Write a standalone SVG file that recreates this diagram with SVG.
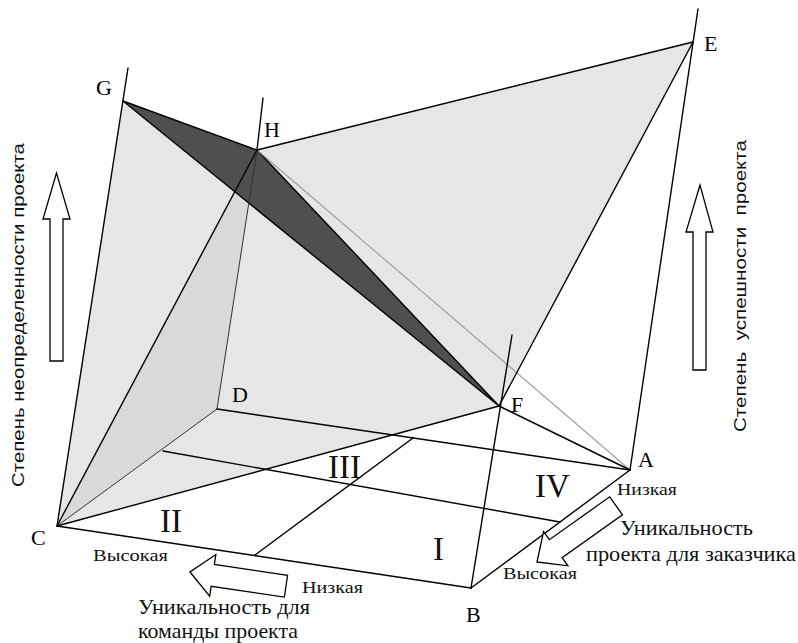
<svg xmlns="http://www.w3.org/2000/svg" width="798" height="643" viewBox="0 0 798 643">
<style>
.ln{stroke:#000;stroke-width:1.4;fill:none;stroke-linecap:round}
.thin{stroke:#333;stroke-width:1;fill:none}
.gray{stroke:#999;stroke-width:1.1;fill:none}
.lbl{font-family:"Liberation Serif","Times New Roman",serif;font-size:22px;fill:#000}
.num{font-family:"Liberation Serif","Times New Roman",serif;font-size:33px;fill:#111}
.sm{font-family:"Liberation Serif","Times New Roman",serif;font-size:17px;fill:#111}
.mid{font-family:"Liberation Serif","Times New Roman",serif;font-size:21px;fill:#111}
.ax{font-family:"Liberation Sans",Arial,sans-serif;font-size:17px;fill:#111}
.arr{fill:#fff;stroke:#000;stroke-width:1.3;stroke-linejoin:miter}
</style>
<defs>
<polygon id="harrow" points="0,0 -23,-21 -23,-11 -97,-11 -97,11 -23,11 -23,21"/>
</defs>
<rect width="798" height="643" fill="#fff"/>

<g id="faces">
<polygon points="123,101 257,150 693,42 499,406 57,526" fill="#e6e6e6"/>
<polygon points="57,526 257,150 217,409" fill="#d9d9d9"/>
<polygon points="123,101 257,150 499,406" fill="#4f4f4f" stroke="#000" stroke-width="1.4" stroke-linejoin="round"/>
</g>

<g id="connectors">
<line class="gray" x1="257" y1="150" x2="630" y2="470"/>
<line class="thin" x1="217" y1="409" x2="57" y2="526" stroke="#555"/>
<line class="thin" x1="217" y1="409" x2="257" y2="150"/>
<line class="ln" x1="257" y1="150" x2="263" y2="98"/>
<line class="ln" x1="57" y1="526" x2="128" y2="68"/>
<line class="ln" x1="471" y1="588" x2="512" y2="335" stroke-width="1.2"/>
<line class="ln" x1="630" y1="470" x2="698" y2="9"/>
<line class="ln" x1="257" y1="150" x2="693" y2="42"/>
<line class="ln" x1="693" y1="42" x2="499" y2="406"/>
<line class="ln" x1="499" y1="406" x2="57" y2="526"/>
<line class="ln" x1="499" y1="406" x2="630" y2="470"/>
<line class="ln" x1="57" y1="526" x2="257" y2="150"/>
<line class="ln" x1="217" y1="409" x2="630" y2="470"/>
<line class="ln" x1="57" y1="526" x2="471" y2="588"/>
<line class="ln" x1="471" y1="588" x2="630" y2="470"/>
<line class="ln" x1="163" y1="451" x2="560" y2="522"/>
<line class="ln" x1="255" y1="555" x2="413" y2="438"/>
</g>

<g id="arrows">
<use href="#harrow" class="arr" transform="translate(190,572) rotate(188.4)"/>
<use href="#harrow" class="arr" transform="translate(537,562) rotate(144.6)"/>
<polygon class="arr" points="56.5,173 43,219 50,219 50,361 63,361 63,219 70,219"/>
<polygon class="arr" points="700,185 686,232 693,232 693,370 706,370 706,232 713,232"/>
</g>

<g id="node-G"><text class="lbl" x="96" y="95">G</text></g>
<g id="node-H"><text class="lbl" x="264" y="137">H</text></g>
<g id="node-E"><text class="lbl" x="704" y="51">E</text></g>
<g id="node-F"><text class="lbl" x="511" y="412">F</text></g>
<g id="node-A"><text class="lbl" x="638" y="467">A</text></g>
<g id="node-B"><text class="lbl" x="466" y="622">B</text></g>
<g id="node-C"><text class="lbl" x="31" y="545">C</text></g>
<g id="node-D"><text class="lbl" x="232" y="402">D</text></g>

<g id="regions">
<text class="num" x="160" y="532">II</text>
<text class="num" x="328" y="478">III</text>
<text class="num" x="535" y="497">IV</text>
<text class="num" x="433" y="560">I</text>
</g>

<g id="axis-labels">
<text class="ax" transform="translate(24,315) rotate(-90)" text-anchor="middle" textLength="344" lengthAdjust="spacingAndGlyphs">Степень неопределенности проекта</text>
<text class="ax" transform="translate(746,286) rotate(-90)" text-anchor="middle" textLength="292" lengthAdjust="spacingAndGlyphs" xml:space="preserve">Степень  успешности  проекта</text>
<text class="sm" x="93" y="561" textLength="75" lengthAdjust="spacingAndGlyphs">Высокая</text>
<text class="sm" x="302" y="593" textLength="61" lengthAdjust="spacingAndGlyphs">Низкая</text>
<text class="mid" x="138" y="614" textLength="172" lengthAdjust="spacingAndGlyphs">Уникальность для</text>
<text class="mid" x="138" y="638" textLength="160" lengthAdjust="spacingAndGlyphs">команды проекта</text>
<text class="sm" x="617" y="495" textLength="60" lengthAdjust="spacingAndGlyphs">Низкая</text>
<text class="mid" x="620" y="535" textLength="133" lengthAdjust="spacingAndGlyphs">Уникальность</text>
<text class="mid" x="586" y="561" textLength="210" lengthAdjust="spacingAndGlyphs">проекта для заказчика</text>
<text class="sm" x="503" y="579" textLength="74" lengthAdjust="spacingAndGlyphs">Высокая</text>
</g>
</svg>
